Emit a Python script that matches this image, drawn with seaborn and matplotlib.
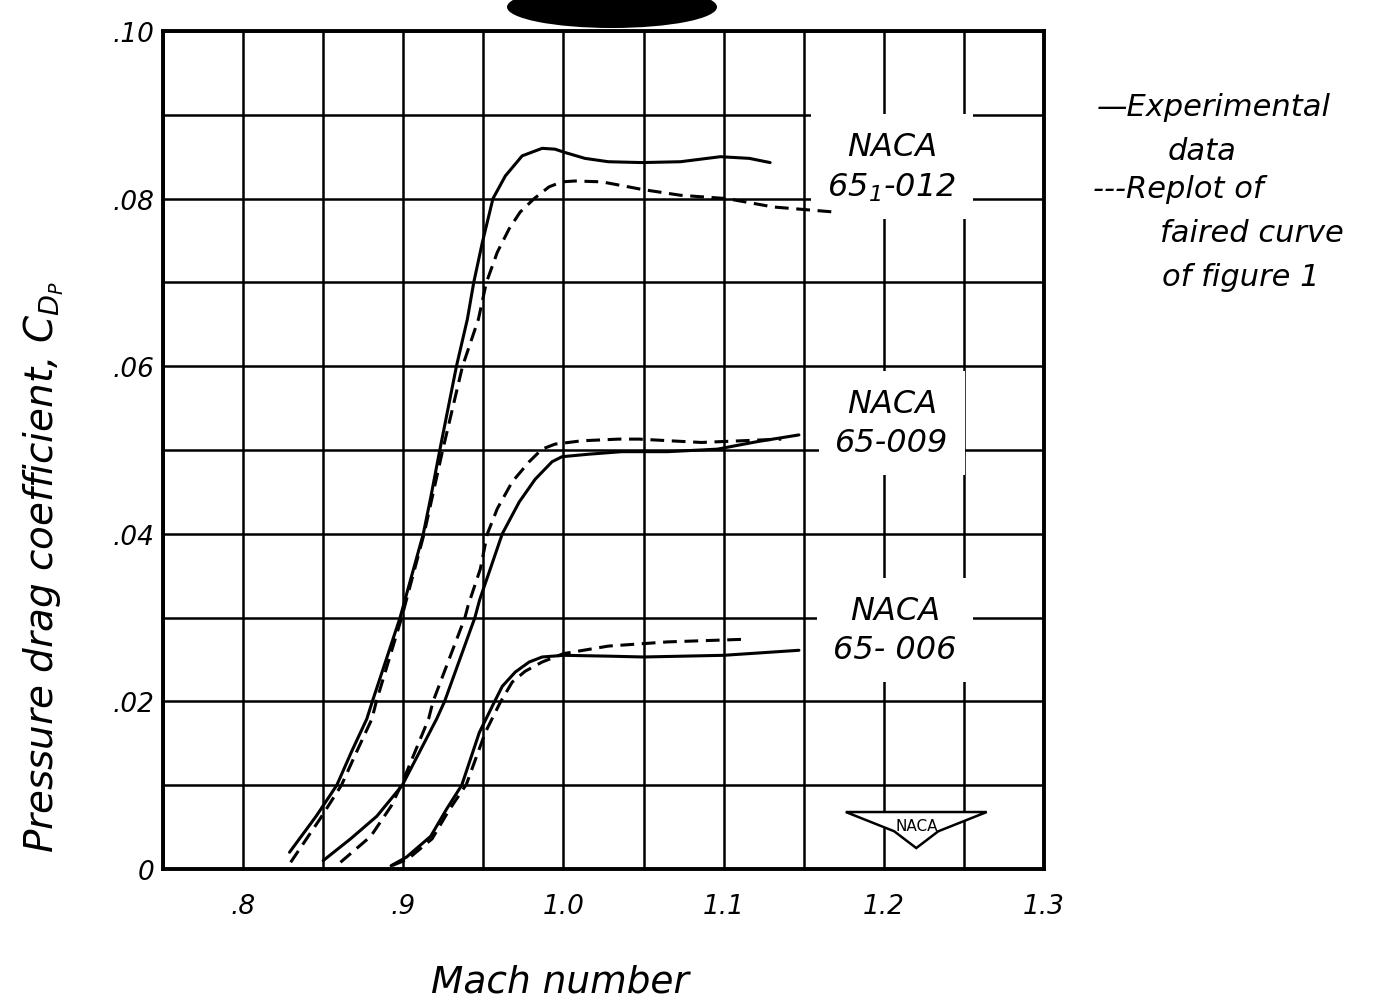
import numpy as np
import pandas as pd
import seaborn as sns
import matplotlib
matplotlib.use('Agg')
import matplotlib.pyplot as plt
from matplotlib.patches import Ellipse, Polygon

# ---- data (Mach number, pressure drag coefficient) ----
m_012_exp = [0.829, 0.8456, 0.8585, 0.8677, 0.8772, 0.8807, 0.898, 0.9125, 0.917, 0.9227, 0.9332, 0.940,
             0.944, 0.9494, 0.956, 0.9637, 0.9742, 0.9867, 0.9947, 1.001, 1.0134, 1.028, 1.049, 1.073,
             1.098, 1.116, 1.129]
cdp_012_exp = [0.0020, 0.0063, 0.0100, 0.0140, 0.0179, 0.0200, 0.0300, 0.0400, 0.0442, 0.0499, 0.0600, 0.0656,
               0.0700, 0.0748, 0.0800, 0.0827, 0.0851, 0.0860, 0.0859, 0.0855, 0.0848, 0.0844, 0.0843, 0.0844,
               0.0850, 0.0848, 0.0843]
m_012_rep = [0.8297, 0.8481, 0.8614, 0.8709, 0.8804, 0.8832, 0.899, 0.913, 0.9245, 0.937, 0.9469, 0.9519,
             0.9587, 0.9661, 0.973, 0.9817, 0.991, 0.999, 1.0071, 1.0239, 1.0407, 1.0488, 1.073, 1.102,
             1.131, 1.169]
cdp_012_rep = [0.0008, 0.0060, 0.0100, 0.0140, 0.0179, 0.0200, 0.0300, 0.0400, 0.0499, 0.0600, 0.0656, 0.0700,
               0.0736, 0.0764, 0.0784, 0.0800, 0.0814, 0.0820, 0.0821, 0.0820, 0.0814, 0.0811, 0.0804, 0.0800,
               0.0790, 0.0784]

m_009_exp = [0.850, 0.8671, 0.8835, 0.8994, 0.9208, 0.9258, 0.9447, 0.9478, 0.9543, 0.9618, 0.9724, 0.9823,
             0.9929, 0.9991, 1.0159, 1.0363, 1.065, 1.096, 1.121, 1.147]
cdp_009_exp = [0.0010, 0.0036, 0.0063, 0.0100, 0.0179, 0.0200, 0.0300, 0.0322, 0.0358, 0.0400, 0.0438, 0.0465,
               0.0486, 0.0492, 0.0495, 0.0498, 0.0498, 0.0501, 0.0510, 0.0518]
m_009_rep = [0.8608, 0.8797, 0.8924, 0.8987, 0.9158, 0.9186, 0.9385, 0.9404, 0.9481, 0.9525, 0.9587, 0.968,
             0.9786, 0.9866, 0.9947, 1.0115, 1.0345, 1.047, 1.086, 1.136]
cdp_009_rep = [0.0008, 0.0039, 0.0075, 0.0100, 0.0179, 0.0200, 0.0300, 0.0314, 0.0358, 0.0400, 0.0430, 0.0462,
               0.0486, 0.0501, 0.0507, 0.0511, 0.0513, 0.0513, 0.0509, 0.0513]

m_006_exp = [0.8924, 0.9019, 0.9171, 0.9272, 0.9365, 0.9475, 0.9568, 0.9618, 0.9699, 0.9786, 0.9867, 1.000,
             1.028, 1.050, 1.100, 1.147]
cdp_006_exp = [0.0004, 0.0014, 0.0039, 0.0072, 0.0100, 0.0163, 0.0199, 0.0218, 0.0235, 0.0247, 0.0253, 0.0255,
               0.0254, 0.0253, 0.0255, 0.0261]
m_006_rep = [0.8930, 0.903, 0.918, 0.9285, 0.9394, 0.9512, 0.9606, 0.968, 0.9761, 0.9867, 1.000, 1.028,
             1.065, 1.111]
cdp_006_rep = [0.0004, 0.0012, 0.0036, 0.0070, 0.0101, 0.0163, 0.0199, 0.0223, 0.0236, 0.0247, 0.0257, 0.0266,
               0.0271, 0.0274]

label_texts = ['NACA\n$65_1$-012', 'NACA\n65-009', 'NACA\n65- 006']
label_mach = [1.205, 1.205, 1.207]
label_cdp = [0.0838, 0.0532, 0.0285]

x_ticks = [0.8, 0.9, 1.0, 1.1, 1.2, 1.3]
x_ticklabels = ['.8', '.9', '1.0', '1.1', '1.2', '1.3']
y_ticks = [0, 0.02, 0.04, 0.06, 0.08, 0.10]
y_ticklabels = ['0', '.02', '.04', '.06', '.08', '.10']

# long table for seaborn
rows = []
for sec, kind, m, c in [
        ('65_1-012', 'Experimental', m_012_exp, cdp_012_exp),
        ('65_1-012', 'Replot', m_012_rep, cdp_012_rep),
        ('65-009', 'Experimental', m_009_exp, cdp_009_exp),
        ('65-009', 'Replot', m_009_rep, cdp_009_rep),
        ('65-006', 'Experimental', m_006_exp, cdp_006_exp),
        ('65-006', 'Replot', m_006_rep, cdp_006_rep)]:
    for mi, ci in zip(m, c):
        rows.append({'mach': mi, 'cdp': ci, 'section': sec, 'kind': kind, 'curve': sec + kind})
df = pd.DataFrame(rows)

sns.set_theme(style='white')
plt.rcParams['font.family'] = ['DejaVu Sans']
plt.rcParams['font.style'] = 'italic'
plt.rcParams['mathtext.default'] = 'it'
plt.rcParams['text.color'] = 'black'
plt.rcParams['axes.labelcolor'] = 'black'

fig = plt.figure(figsize=(13.82, 10.03), dpi=100)
ax = fig.add_axes([163 / 1382, 1 - 870 / 1003, 881 / 1382, 838 / 1003])
ax.set_axisbelow(True)

sns.lineplot(data=df, x='mach', y='cdp', units='curve', style='kind', estimator=None, sort=False,
             color='black', linewidth=2.2, dashes={'Experimental': '', 'Replot': (4.5, 2.5)},
             legend=False, ax=ax, zorder=3)

ax.set_xlim(0.75, 1.30)
ax.set_ylim(0, 0.10)
ax.set_xticks(x_ticks)
ax.set_xticklabels(x_ticklabels)
ax.set_yticks(y_ticks)
ax.set_yticklabels(y_ticklabels)
# grid every .05 in Mach and .01 in Cdp
ax.set_xticks([0.75, 0.85, 0.95, 1.05, 1.15, 1.25], minor=True)
ax.set_yticks([0.01, 0.03, 0.05, 0.07, 0.09], minor=True)
ax.grid(which='both', color='black', linewidth=1.8)
ax.tick_params(axis='both', which='both', length=0, labelsize=19, colors='black')
ax.tick_params(axis='x', pad=17)
ax.tick_params(axis='y', pad=6)
for s in ax.spines.values():
    s.set_color('black')
    s.set_linewidth(2.8)
    s.set_zorder(4)

ax.set_xlabel('Mach number', fontsize=27, labelpad=0)
ax.xaxis.set_label_coords(0.451, -0.113)
ax.set_ylabel('Pressure drag coefficient, $C_{D_P}$', fontsize=28)
ax.yaxis.set_label_coords(-0.11, 0.362)

for txt, mx, cy in zip(label_texts, label_mach, label_cdp):
    ax.text(mx, cy, txt, fontsize=23, ha='center', va='center', linespacing=1.35, zorder=2,
            bbox=dict(facecolor='white', edgecolor='none', pad=12))

# NACA wing emblem
wing = Polygon([[0.775, 0.068], [0.935, 0.068], [0.88, 0.045], [0.855, 0.025], [0.83, 0.045]],
               closed=True, transform=ax.transAxes, facecolor='white', edgecolor='black', linewidth=1.8, zorder=5)
ax.add_patch(wing)
ax.text(0.855, 0.052, 'NACA', transform=ax.transAxes, fontsize=11, ha='center', va='center',
        fontstyle='normal', zorder=6)

# key to line styles
fig.text(1097 / 1382, 1 - 108 / 1003, '\u2014Experimental', fontsize=22, va='center', ha='left')
fig.text(1168 / 1382, 1 - 151 / 1003, 'data', fontsize=22, va='center', ha='left')
fig.text(1093 / 1382, 1 - 189 / 1003, '---Replot of', fontsize=22, va='center', ha='left')
fig.text(1160 / 1382, 1 - 234 / 1003, 'faired curve', fontsize=22, va='center', ha='left')
fig.text(1162 / 1382, 1 - 277 / 1003, 'of figure 1', fontsize=22, va='center', ha='left')

# redaction blot at the top of the sheet
fig.patches.append(Ellipse((612 / 1382, 1 - 8 / 1003), 210 / 1382, 42 / 1003,
                           transform=fig.transFigure, facecolor='black', edgecolor='none'))

fig.savefig('out.png', dpi=100, facecolor='white')
